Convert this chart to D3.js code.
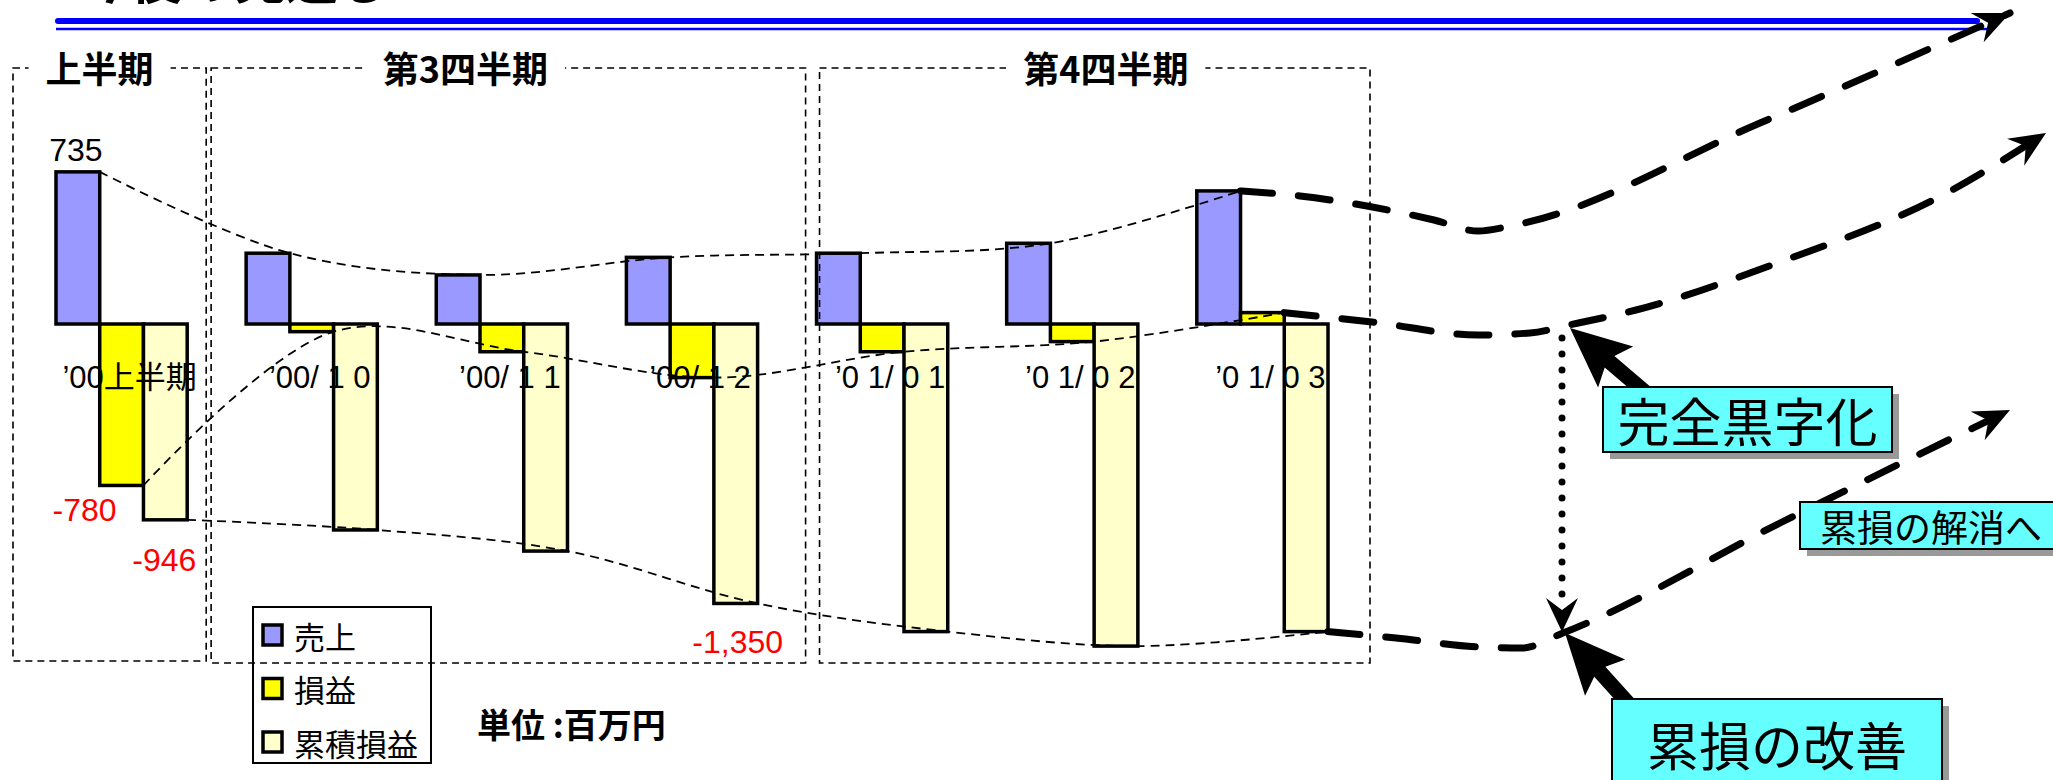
<!DOCTYPE html>
<html>
<head>
<meta charset="utf-8">
<script src="https://cdn.jsdelivr.net/npm/d3@7"></script>
<style>
  body { margin: 0; background: #fff; }
  text { font-family: "Liberation Sans", "Noto Sans CJK JP", sans-serif; }
  .jp { font-family: "Noto Sans CJK JP", "Liberation Sans", sans-serif; }
  .bold { font-weight: bold; }
</style>
</head>
<body>
<div id="chart"></div>
<script>
// data (百万円)
const categories = ["’00上半期", "’00/ 1 0", "’00/ 1 1", "’00/ 1 2", "’0 1/ 0 1", "’0 1/ 0 2", "’0 1/ 0 3"];
const sales      = [735, 342, 237, 322, 342, 390, 643];
const profit     = [-780, -37, -134, -259, -134, -85, 55];
const cumulative = [-946, -995, -1097, -1350, -1486, -1556, -1486];
const seriesNames = ["売上", "損益", "累積損益"];
const seriesColors = ["#9999FF", "#FFFF00", "#FFFFCC"];
const periodNames = ["上半期", "第3四半期", "第4四半期"];
const periodFirst = [0, 1, 4];
const periodLast  = [0, 3, 6];
// [series, category] pairs that carry a value label
const labelled = [[0, 0], [1, 0], [2, 0], [2, 3]];

const W = 2053, H = 780;
const svg = d3.select("#chart").append("svg")
  .attr("width", W).attr("height", H);

const defs = svg.append("defs");
function addMarker(id, len, half, notch) {
  defs.append("marker")
    .attr("id", id)
    .attr("markerUnits", "userSpaceOnUse")
    .attr("viewBox", `${-len - 2} ${-half - 2} ${len + 6} ${2 * half + 4}`)
    .attr("refX", 0).attr("refY", 0)
    .attr("markerWidth", len + 6).attr("markerHeight", 2 * half + 4)
    .attr("orient", "auto")
    .append("path")
    .attr("d", `M0,0 L${-len},${-half} L${-notch},0 L${-len},${half} Z`)
    .attr("fill", "#000");
}
addMarker("head", 36, 16, 24);
addMarker("head2", 34, 16, 22);

// scales
const x = d3.scaleBand().domain(categories).range([56, 1328]).paddingInner(0.31).paddingOuter(0);
const sub = d3.scaleBand().domain(d3.range(3)).range([0, x.bandwidth()]);
const y = d3.scaleLinear().domain([-1600, 800]).range([655.2, 158.4]);
const series = [sales, profit, cumulative];

// title remnant + blue rules
svg.append("text").attr("class", "jp bold")
  .attr("x", 78).attr("y", -1)
  .style("font-size", "52px")
  .text("今後の見通し");
svg.append("line").attr("x1", 58).attr("x2", 1977).attr("y1", 21).attr("y2", 21)
  .attr("stroke", "#0000FF").attr("stroke-width", 6).attr("stroke-linecap", "round");
svg.append("line").attr("x1", 56).attr("x2", 1989).attr("y1", 29).attr("y2", 29)
  .attr("stroke", "#0000FF").attr("stroke-width", 2.5);

// bars
const bars = svg.append("g");
series.forEach((vals, s) => {
  bars.append("g").selectAll("rect")
    .data(vals)
    .enter().append("rect")
    .attr("x", (d, i) => x(categories[i]) + sub(s))
    .attr("y", d => y(Math.max(0, d)))
    .attr("width", sub.bandwidth())
    .attr("height", d => Math.abs(y(d) - y(0)))
    .attr("fill", seriesColors[s])
    .attr("stroke", "#000")
    .attr("stroke-width", 3.5);
});

// period boxes
const padL = [43, 35, -3], padR = [19, 48, 42], titleDx = [-10, -43, 11];
const boxTop = 68, boxBottom = [661, 663, 663];
periodNames.forEach((name, p) => {
  const x0 = x(categories[periodFirst[p]]) - padL[p];
  const x1 = x(categories[periodLast[p]]) + x.bandwidth() + padR[p];
  svg.append("rect")
    .attr("x", x0).attr("y", boxTop)
    .attr("width", x1 - x0).attr("height", boxBottom[p] - boxTop)
    .attr("fill", "none").attr("stroke", "#000")
    .attr("stroke-width", 1.6).attr("stroke-dasharray", "7 5");
  const g = svg.append("g");
  const bg = g.append("rect").attr("fill", "#fff");
  const t = g.append("text").attr("class", "jp bold")
    .attr("x", (x0 + x1) / 2 + titleDx[p]).attr("y", 83)
    .attr("text-anchor", "middle")
    .style("font-size", "36px")
    .text(name);
  const b = t.node().getBBox();
  bg.attr("x", b.x - 17).attr("y", b.y).attr("width", b.width + 34).attr("height", b.height);
});

// thin trend curves through the bar ends
const thin = d3.line().curve(d3.curveCatmullRom.alpha(0.5));
series.forEach((vals, s) => {
  const pts = vals.map((v, i) => [x(categories[i]) + sub(s) + sub.bandwidth(), y(v)]);
  svg.append("path")
    .attr("d", thin(pts))
    .attr("fill", "none").attr("stroke", "#000")
    .attr("stroke-width", 1.8).attr("stroke-dasharray", "9 6");
});

// category labels
svg.append("g").selectAll("text")
  .data(categories)
  .enter().append("text")
  .attr("x", d => x(d) + x.bandwidth() / 2 + 8)
  .attr("y", 388)
  .attr("text-anchor", "middle")
  .style("font-size", "31px")
  .text(d => d);

// value labels
const fmt = d3.formatLocale({ decimal: ".", thousands: ",", grouping: [3], currency: ["", ""], minus: "-" }).format(",");
const labelDx = [-2, -37, -1, 2], labelDy = [-11, 36, 51, 50];
labelled.forEach(([s, i], k) => {
  const v = series[s][i];
  svg.append("text")
    .attr("x", x(categories[i]) + sub(s) + sub.bandwidth() / 2 + labelDx[k])
    .attr("y", y(v) + labelDy[k])
    .attr("text-anchor", "middle")
    .attr("fill", v < 0 ? "#FF0000" : "#000")
    .style("font-size", "32px")
    .text(fmt(v));
});

// thick forecast curves, starting from the last bar ends
const last = categories.length - 1;
const endPt = s => [x(categories[last]) + sub(s) + sub.bandwidth(), y(series[s][last])];
const thick = d3.line().curve(d3.curveMonotoneX);
const forecast = [
  [endPt(0), [1300, 196], [1434, 220], [1478, 231], [1515, 225], [1760, 123], [2010, 13]],
  [endPt(1), [1372, 322], [1478, 335], [1530, 333], [1569, 325], [1636, 310], [1780, 262], [1939, 197], [2046, 133]],
  [endPt(2), [1396, 638], [1480, 647], [1522, 648], [1563, 633], [1780, 523], [2010, 410]]
];
forecast.forEach(pts => {
  svg.append("path")
    .attr("d", thick(pts))
    .attr("fill", "none").attr("stroke", "#000")
    .attr("stroke-width", 7).attr("stroke-linecap", "round")
    .attr("stroke-dasharray", "32 26")
    .attr("marker-end", "url(#head)");
});
svg.select("path:last-of-type");

// dotted gap arrow
svg.append("path")
  .attr("d", "M1562,338 L1562,600")
  .attr("stroke", "#000").attr("stroke-width", 7)
  .attr("stroke-linecap", "round").attr("stroke-dasharray", "0 16");
svg.append("path")
  .attr("d", "M1562,598 L1562,632")
  .attr("stroke", "none")
  .attr("marker-end", "url(#head2)");

// big black arrows
function bigArrow(x1, y1, x2, y2, shaftW, headL, headW) {
  const len = Math.hypot(x2 - x1, y2 - y1);
  const ux = (x2 - x1) / len, uy = (y2 - y1) / len;
  const nx = -uy, ny = ux;
  const bx = x2 - ux * headL, by = y2 - uy * headL;
  const pts = [
    [x1 + nx * shaftW / 2, y1 + ny * shaftW / 2],
    [bx + nx * shaftW / 2, by + ny * shaftW / 2],
    [bx + nx * headW / 2 - ux * 8, by + ny * headW / 2 - uy * 8],
    [x2, y2],
    [bx - nx * headW / 2 - ux * 8, by - ny * headW / 2 - uy * 8],
    [bx - nx * shaftW / 2, by - ny * shaftW / 2],
    [x1 - nx * shaftW / 2, y1 - ny * shaftW / 2]
  ];
  svg.append("path").attr("d", "M" + pts.join("L") + "Z").attr("fill", "#000");
}
bigArrow(1645, 392, 1570, 328, 15, 52, 54);
bigArrow(1628, 703, 1565, 633, 15, 52, 54);

// cyan call-out boxes
const callouts = [
  { text: "完全黒字化", x: 1603, y: 387, w: 289, h: 65, size: 52 },
  { text: "累損の解消へ", x: 1800, y: 502, w: 262, h: 47, size: 37 },
  { text: "累損の改善", x: 1612, y: 699, w: 330, h: 95, size: 52, cy: 743 }
];
callouts.forEach(c => {
  svg.append("rect").attr("x", c.x + 7).attr("y", c.y + 7)
    .attr("width", c.w).attr("height", c.h).attr("fill", "#999999");
  svg.append("rect").attr("x", c.x).attr("y", c.y)
    .attr("width", c.w).attr("height", c.h)
    .attr("fill", "#66FFFF").attr("stroke", "#000").attr("stroke-width", 2);
  svg.append("text").attr("class", "jp")
    .attr("x", c.x + c.w / 2).attr("y", c.cy || (c.y + c.h / 2))
    .attr("text-anchor", "middle").attr("dominant-baseline", "central")
    .style("font-size", c.size + "px")
    .text(c.text);
});

// legend
const legend = svg.append("g").attr("transform", "translate(253,607)");
legend.append("rect").attr("width", 178).attr("height", 156)
  .attr("fill", "none").attr("stroke", "#000").attr("stroke-width", 2);
seriesNames.forEach((name, i) => {
  const cy = 28 + i * 53.5;
  legend.append("rect").attr("x", 10).attr("y", cy - 10)
    .attr("width", 19).attr("height", 20)
    .attr("fill", seriesColors[i]).attr("stroke", "#000").attr("stroke-width", 3.5);
  legend.append("text").attr("class", "jp")
    .attr("x", 41).attr("y", cy)
    .attr("dominant-baseline", "central")
    .style("font-size", "31px")
    .text(name);
});

svg.append("text").attr("class", "jp bold")
  .attr("x", 477).attr("y", 723)
  .attr("dominant-baseline", "central")
  .style("font-size", "34px")
  .text("単位 :百万円");
</script>
</body>
</html>
